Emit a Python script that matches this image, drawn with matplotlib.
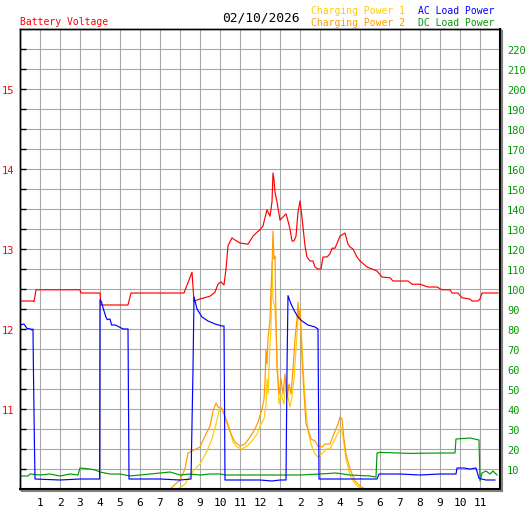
import matplotlib
matplotlib.use("Agg")
import matplotlib.pyplot as plt
from matplotlib.lines import Line2D

# ---------------- data ----------------
hour_ticks = list(range(1, 24))
hour_labels = ["1", "2", "3", "4", "5", "6", "7", "8", "9", "10", "11", "12",
               "1", "2", "3", "4", "5", "6", "7", "8", "9", "10", "11"]
volt_ticks = [11, 12, 13, 14, 15]
power_ticks = list(range(10, 230, 10))

volt_h = [0, 0.65, 0.7, 0.8, 3.0, 3.05, 4.0, 4.05, 5.4, 5.55, 8.2, 8.6, 8.7, 9.0,
          9.5, 9.75, 9.9, 10.05, 10.2, 10.3, 10.4, 10.6, 10.7, 11.0, 11.4, 11.5,
          11.65, 11.85, 12.0, 12.15, 12.3, 12.35, 12.5, 12.6, 12.65, 12.7, 12.75,
          12.85, 13.0, 13.15, 13.3, 13.4, 13.5, 13.6, 13.7, 13.8, 13.9, 14.0,
          14.05, 14.15, 14.25, 14.35, 14.5, 14.65, 14.75, 14.9, 15.05, 15.15,
          15.35, 15.5, 15.6, 15.75, 16.0, 16.25, 16.4, 16.5, 16.65, 16.85, 17.0,
          17.35, 17.85, 18.1, 18.5, 18.65, 19.4, 19.6, 20.0, 20.4, 20.85, 21.1,
          21.5, 21.6, 21.9, 22.1, 22.5, 22.6, 22.9, 23.0, 23.1, 23.9]
volt_v = [12.35, 12.35, 12.34, 12.49, 12.49, 12.45, 12.45, 12.30, 12.30, 12.45,
          12.45, 12.71, 12.35, 12.375, 12.41, 12.46, 12.56, 12.59, 12.55, 12.75,
          13.04, 13.14, 13.12, 13.075, 13.06, 13.1, 13.16, 13.21, 13.24, 13.29,
          13.44, 13.49, 13.41, 13.59, 13.95, 13.86, 13.71, 13.59, 13.36, 13.4,
          13.44, 13.35, 13.25, 13.1, 13.1, 13.16, 13.46, 13.6, 13.5, 13.275,
          13.04, 12.9, 12.85, 12.85, 12.775, 12.75, 12.75, 12.9, 12.9, 12.94,
          13.01, 13.01, 13.16, 13.2, 13.06, 13.025, 13.0, 12.9, 12.85, 12.775,
          12.725, 12.65, 12.64, 12.6, 12.6, 12.56, 12.56, 12.525, 12.525, 12.49,
          12.49, 12.45, 12.45, 12.39, 12.375, 12.35, 12.35, 12.375, 12.45, 12.45]

ac_h = [0, 0.2, 0.25, 0.35, 0.55, 0.58, 0.65, 0.67, 0.72, 0.75, 2.0, 3.0, 3.98,
        4.0, 4.08, 4.17, 4.3, 4.37, 4.5, 4.58, 4.75, 4.83, 5.0, 5.17, 5.4, 5.45,
        6.0, 7.0, 8.0, 8.55, 8.65, 8.7, 8.85, 9.1, 9.4, 9.75, 10.1, 10.2, 10.25,
        11.0, 12.0, 12.6, 13.0, 13.3, 13.35, 13.4, 13.55, 13.75, 13.9, 14.1, 14.4,
        14.75, 14.9, 14.95, 16.0, 17.0, 17.85, 17.95, 19.0, 20.0, 21.0, 21.8,
        21.85, 22.2, 22.5, 22.8, 22.95, 23.3, 23.75]
ac_w = [82, 82.5, 81.7, 80.3, 80, 79.5, 80, 61, 23.5, 5, 4.5, 5, 5,
        94.7, 93.3, 90, 85.8, 84.7, 85, 82, 82, 81.7, 80.8, 80, 80, 5,
        5, 5, 4.5, 5, 60, 96, 90, 86, 84, 82.5, 81.5, 81.5, 4.5,
        4.5, 4.5, 4, 4.5, 4.5, 60, 96.7, 92.5, 88.5, 86, 84, 82,
        81, 80, 5, 5, 5, 5, 7.5, 7.5, 7, 7.5, 7.5,
        10.5, 10.5, 10, 10.5, 5.3, 4.5, 4.5]

dc_h = [0, 0.4, 0.5, 1.0, 1.5, 2.0, 2.5, 2.9, 3.0, 3.5, 3.75, 4.0, 4.5, 5.0, 5.5,
        6.0, 6.5, 7.0, 7.5, 8.0, 8.5, 9.0, 9.5, 10.0, 10.3, 12.0, 13.0, 14.0,
        15.0, 15.8, 16.5, 17.5, 17.8, 17.85, 18.0, 19.5, 21.0, 21.75, 21.8, 22.5,
        22.95, 23.0, 23.1, 23.3, 23.5, 23.65, 23.85]
dc_w = [6.5, 6.5, 7.5, 7, 7.5, 6.5, 7.5, 7, 10.5, 10, 9.5, 8.5, 7.5, 7.5, 6.5,
        7, 7.5, 8, 8.5, 7, 7.5, 7, 7.5, 7.5, 7, 7, 7, 7,
        7.5, 8, 7, 6.5, 6, 18, 18.3, 17.8, 18, 18, 25, 25.5,
        24.5, 4, 8, 9, 7.5, 9, 7]

cp2_h = [0, 7.5, 8.0, 8.25, 8.4, 8.6, 9.0, 9.25, 9.5, 9.65, 9.8, 9.9, 10.1, 10.25,
         10.4, 10.6, 10.75, 11.0, 11.25, 11.5, 11.75, 11.9, 12.1, 12.2, 12.25, 12.3,
         12.35, 12.4, 12.5, 12.55, 12.6, 12.65, 12.7, 12.75, 12.8, 12.85, 12.95,
         13.05, 13.15, 13.25, 13.35, 13.45, 13.55, 13.65, 13.75, 13.85, 13.9,
         13.95, 14.0, 14.1, 14.2, 14.3, 14.4, 14.55, 14.75, 14.9, 15.1, 15.25,
         15.5, 15.75, 15.9, 16.0, 16.1, 16.2, 16.3, 16.5, 16.75, 17.0, 17.25, 24]
cp2_w = [0, 0, 4.5, 10, 18, 19, 21, 26.5, 31.5, 39, 43, 41, 40, 36,
         31.5, 26.5, 23.5, 21.5, 22.5, 26, 30, 33.5, 40, 45, 53.5, 70,
         62.5, 75, 85, 100, 110, 129, 115, 116.5, 85, 60, 47.5,
         55, 47.5, 57.5, 45, 52.5, 47.5, 60, 75, 85, 93.5,
         85, 90, 65, 47.5, 32.5, 30, 25, 24, 21.5, 21, 22.5,
         22.5, 29, 32.5, 36, 35, 25, 17.5, 10, 4, 1.5, 0, 0]

cp1_h = [0, 7.9, 8.25, 8.65, 9.0, 9.35, 9.6, 9.8, 9.95, 10.05, 10.2, 10.35, 10.5,
         10.65, 10.85, 11.1, 11.35, 11.6, 11.85, 12.05, 12.2, 12.3, 12.35, 12.4,
         12.5, 12.55, 12.6, 12.65, 12.75, 12.85, 12.95, 13.05, 13.2, 13.3, 13.4,
         13.5, 13.6, 13.7, 13.8, 13.9, 14.0, 14.1, 14.2, 14.3, 14.4, 14.55, 14.75,
         14.9, 15.1, 15.3, 15.5, 15.75, 15.95, 16.05, 16.15, 16.3, 16.5, 16.75,
         17.0, 17.15, 24]
cp1_w = [0, 0, 2.5, 9, 12.5, 19, 25, 32.5, 39, 41, 38, 34, 29,
         23.5, 21, 20, 21.5, 24, 27.5, 32.5, 35, 42.5, 55, 47.5,
         72.5, 80, 113.5, 95, 90, 67.5, 42.5, 47.5, 42.5, 55, 46,
         41, 46, 55, 70, 85, 90, 72.5, 52.5, 39, 29, 22.5, 17.5,
         16, 17.5, 20, 20, 25, 29, 31, 26, 15, 7, 2.5,
         0.5, 0, 0]

# ---------------- colours ----------------
RED = "#ff0000"
BLUE = "#0000ff"
GREEN = "#009900"
GOLD = "#ffcc00"
ORANGE = "#ff9900"
GRID = "#a8a8a8"
FONT = "DejaVu Sans Mono"
LW = 0.85

W, H = 527, 510
fig = plt.figure(figsize=(W / 100, H / 100), dpi=100)
fig.patch.set_facecolor("white")

L, R, T, B = 20, 500, 30, 490
ax = fig.add_axes([L / W, 1 - B / H, (R - L) / W, (B - T) / H])
ax.set_xlim(0, 24)
ax.set_ylim(10, 15.75)
ax2 = ax.twinx()
ax2.set_ylim(0, 230)

# grid
for h in range(1, 24):
    ax.axvline(h, color=GRID, lw=0.8, zorder=0.5)
v = 10.25
while v < 15.75:
    ax.axhline(v, color=GRID, lw=0.8, zorder=0.5)
    v += 0.25

# series
ax.plot(volt_h, volt_v, color=RED, lw=LW, zorder=3)
ax2.plot(cp1_h, cp1_w, color=GOLD, lw=LW, zorder=2, clip_on=False)
ax2.plot(cp2_h, cp2_w, color=ORANGE, lw=LW, zorder=2.1, clip_on=False)
ax2.plot(dc_h, dc_w, color=GREEN, lw=LW, zorder=2.2)
ax2.plot(ac_h, ac_w, color=BLUE, lw=LW, zorder=2.3)

# ticks
ax.set_xticks(hour_ticks)
ax.set_xticklabels(hour_labels)
ax.tick_params(axis="x", length=0, pad=6, labelsize=8)
for t in ax.get_xticklabels():
    t.set_fontfamily(FONT)

ax.set_yticks([10 + 0.25 * i for i in range(1, 23)], minor=True)
ax.set_yticks(volt_ticks)
ax.set_yticklabels([str(t) for t in volt_ticks])
ax.tick_params(axis="y", which="both", direction="in", length=4, width=1,
               color="black", labelcolor=RED, labelsize=7.5, pad=4)
for t in ax.get_yticklabels():
    t.set_fontfamily(FONT)

ax2.set_yticks(power_ticks)
ax2.set_yticklabels([str(t) for t in power_ticks])
ax2.tick_params(axis="y", length=0, labelcolor=GREEN, labelsize=7.5, pad=5)
for t in ax2.get_yticklabels():
    t.set_fontfamily(FONT)

for a in (ax, ax2):
    for s in a.spines.values():
        s.set_color("black")
        s.set_linewidth(1.0)
ax2.spines["right"].set_linewidth(1.5)
ax2.spines["bottom"].set_linewidth(1.5)

# shadow
fig.add_artist(Line2D([(R + 2) / W, (R + 2) / W], [1 - (B + 2) / H, 1 - (T + 2) / H],
                      color="#808080", lw=1.5, transform=fig.transFigure))
fig.add_artist(Line2D([(L + 2) / W, (R + 2) / W], [1 - (B + 2) / H, 1 - (B + 2) / H],
                      color="#808080", lw=1.5, transform=fig.transFigure))

# texts
def ftxt(x, y, s, color, size=7, ha="left"):
    fig.text(x / W, 1 - y / H, s, color=color, fontsize=size, family=FONT,
             ha=ha, va="center")

ftxt(20, 22, "Battery Voltage", RED)
ftxt(222, 18, "02/10/2026", "black", size=9.3)
ftxt(311, 11, "Charging Power 1", GOLD)
ftxt(311, 23, "Charging Power 2", ORANGE)
ftxt(418, 11, "AC Load Power", BLUE)
ftxt(418, 23, "DC Load Power", GREEN)

fig.savefig("out.png", dpi=100, facecolor="white")
